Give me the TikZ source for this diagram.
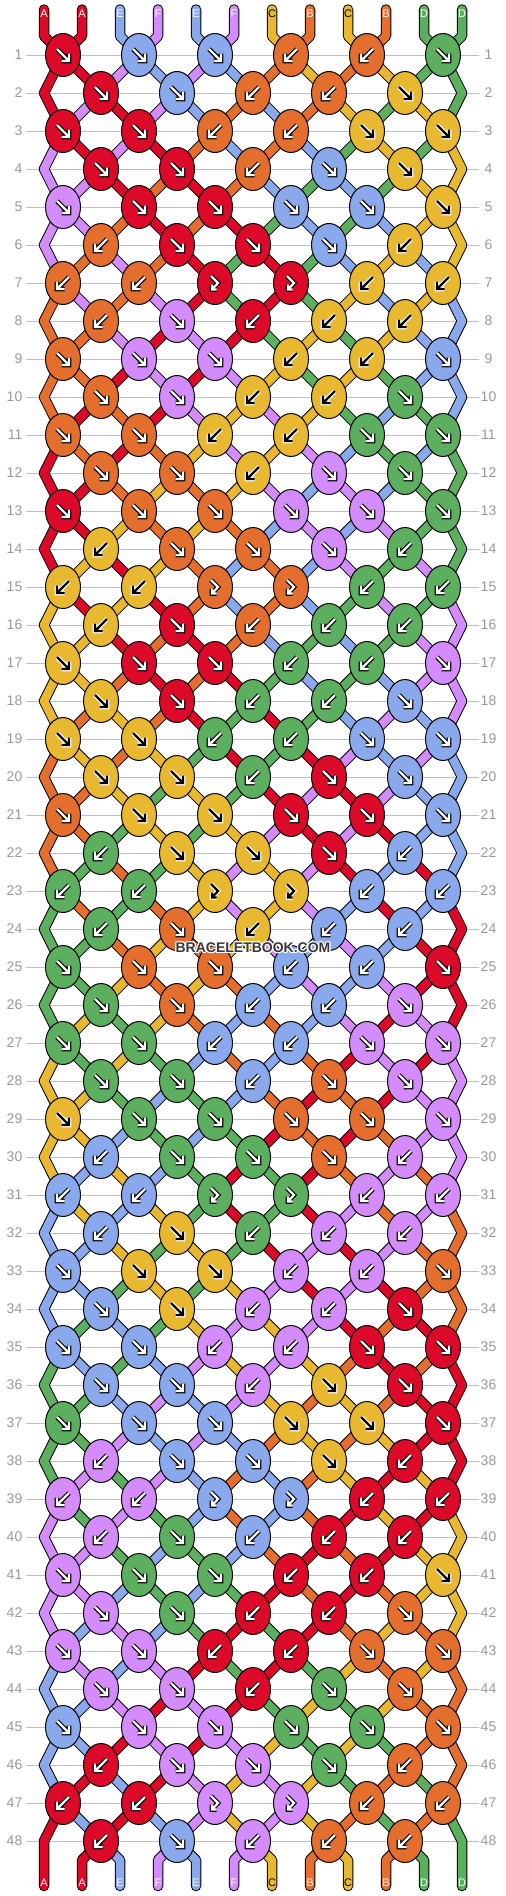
\documentclass[tikz,border=0pt]{standalone}
\usepackage{fontspec}
\setmainfont{Liberation Sans}
\usetikzlibrary{shapes.geometric}
\definecolor{cA}{HTML}{DC0A28}
\definecolor{cB}{HTML}{E36E2E}
\definecolor{cC}{HTML}{E8B830}
\definecolor{cD}{HTML}{5CAF5E}
\definecolor{cE}{HTML}{8AA9EC}
\definecolor{cF}{HTML}{D48CFC}
\colorlet{aA}{white}\colorlet{aB}{white}\colorlet{aC}{black}
\colorlet{aD}{white}\colorlet{aE}{white}\colorlet{aF}{white}
\colorlet{oA}{black}\colorlet{oB}{black}\colorlet{oC}{white}
\colorlet{oD}{black}\colorlet{oE}{black}\colorlet{oF}{black}
\definecolor{gridgray}{HTML}{C0C0C0}
\definecolor{labelgray}{HTML}{999999}
\definecolor{logogray}{HTML}{383838}
\tikzset{
  knot/.style={ellipse, draw=black, line width=1pt, minimum width=35pt, minimum height=43pt, inner sep=0pt},
  strout/.style={line width=10.5pt, draw=black, line cap=round, line join=round},
  strin/.style={line width=8.5pt, line cap=round, line join=round},
  rowline/.style={draw=gridgray, line width=1pt},
  rowlab/.style={text=labelgray, inner sep=0pt, font=\fontsize{14}{14}\selectfont},
  strlab/.style={inner sep=0pt, font=\fontsize{11}{11}\selectfont},
  arrout/.style={line width=4.6pt, line cap=butt, line join=miter},
  arrin/.style={line width=2.3pt, line cap=butt, line join=miter},
  logo/.style={inner sep=0pt, text=logogray, font=\fontsize{14}{14}\selectfont\bfseries},
}
\def\typesi{f,f,f,b,b,f}
\def\typesii{f,f,b,b,f}
\def\typesiii{f,f,b,b,f,f}
\def\typesiv{f,f,b,f,f}
\def\typesv{f,f,f,f,f,f}
\def\typesvi{b,f,f,f,b}
\def\typesvii{b,b,x,x,b,b}
\def\typesviii{b,f,b,b,b}
\newcommand\strseg[2]{\draw[strout] #2; \draw[strin, draw=c#1] #2;}
\newcommand\arrdraw[2]{\draw[arrout, draw=o#1] #2; \draw[arrin, draw=a#1] #2;}
\newcommand\drawarrow[3]{%
  \begin{scope}[shift={(#1)}]
    \if#2f\arrdraw{#3}{(-6,-6) -- (6,6) (6,-1.5) -- (6,6) -- (-1.5,6)}\fi
    \if#2b\arrdraw{#3}{(6,-6) -- (-6,6) (-6,-1.5) -- (-6,6) -- (1.5,6)}\fi
    \if#2x\arrdraw{#3}{(-4,-7) -- (3,0) -- (-3,6.5) (-3,1.5) -- (-3,6.5) -- (1.5,6.5)}\fi
  \end{scope}}
\begin{document}
\begin{tikzpicture}[x=1pt,y=-1pt]
\useasboundingbox (0,0) rectangle (506,1896);
% knot positions, row lines and row numbers
\foreach \rw in {1,...,48}{
  \pgfmathtruncatemacro\odd{mod(\rw,2)}
  \pgfmathsetmacro\yy{55+38*(\rw-1)}
  \ifnum\odd=1
    \foreach \kc in {1,...,6}{\coordinate (k-\rw-\kc) at ({63+76*(\kc-1)},\yy);}
  \else
    \foreach \kc in {1,...,5}{\coordinate (k-\rw-\kc) at ({101+76*(\kc-1)},\yy);}
    \coordinate (eL-\rw) at (44,\yy);
    \coordinate (eR-\rw) at (462,\yy);
  \fi
  \coordinate (gl-\rw) at (26,\yy);
  \coordinate (gr-\rw) at (479,\yy);
  \draw[rowline] (gl-\rw) -- (gr-\rw);
  \node[rowlab, anchor=east] (ll-\rw) at (22.5,\yy) {\rw};
  \node[rowlab] (rl-\rw) at (488.5,\yy) {\rw};
}
% top strings
\foreach \p/\lt in {1/A,2/A,3/E,4/F,5/E,6/F,7/C,8/B,9/C,10/B,11/D,12/D}{
  \expandafter\xdef\csname strc\p\endcsname{\lt}
  \coordinate (top-\p) at ({44+38*(\p-1)},9.5);
  \coordinate (tm-\p) at ({44+38*(\p-1)},36);
  \coordinate (bm-\p) at ({44+38*(\p-1)},1860);
  \coordinate (bot-\p) at ({44+38*(\p-1)},1886);
  \pgfmathtruncatemacro\kk{(\p+1)/2}
  \strseg{\lt}{(top-\p) -- (tm-\p) -- (k-1-\kk)}
  \node[strlab, text=a\lt] (tl-\p) at ({44+38*(\p-1)},13.5) {\lt};
}
% simulate the strings and draw them
\foreach \rw in {1,...,48}{
  \pgfmathtruncatemacro\m{mod(\rw-1,8)+1}
  \pgfmathtruncatemacro\odd{mod(\rw,2)}
  \pgfmathtruncatemacro\rn{\rw+1}
  \pgfmathtruncatemacro\rnn{\rw+2}
  \edef\types{\csname types\romannumeral\m\endcsname}
  \foreach \kt [count=\kc] in \types {
    \ifnum\odd=1 \pgfmathtruncatemacro\pa{2*\kc-1}\else\pgfmathtruncatemacro\pa{2*\kc}\fi
    \pgfmathtruncatemacro\pb{\pa+1}
    \pgfmathtruncatemacro\kcm{\kc-1}
    \pgfmathtruncatemacro\kcp{\kc+1}
    \edef\lL{\csname strc\pa\endcsname}
    \edef\lR{\csname strc\pb\endcsname}
    \if\kt b\let\kl\lR\else\let\kl\lL\fi
    \expandafter\xdef\csname kl-\rw-\kc\endcsname{\kl}
    \if\kt x\else
      \expandafter\xdef\csname strc\pa\endcsname{\lR}
      \expandafter\xdef\csname strc\pb\endcsname{\lL}
    \fi
    \edef\nL{\csname strc\pa\endcsname}
    \edef\nR{\csname strc\pb\endcsname}
    \ifnum\odd=1
      \ifnum\kc=1
        \ifnum\rw<47 \strseg{\nL}{(k-\rw-1) -- (eL-\rn) -- (k-\rnn-1)}%
        \else \strseg{\nL}{(k-\rw-1) -- (eL-\rn) -- (bot-1)}\fi
      \else
        \strseg{\nL}{(k-\rw-\kc) -- (k-\rn-\kcm)}%
      \fi
      \ifnum\kc=6
        \ifnum\rw<47 \strseg{\nR}{(k-\rw-6) -- (eR-\rn) -- (k-\rnn-6)}%
        \else \strseg{\nR}{(k-\rw-6) -- (eR-\rn) -- (bot-12)}\fi
      \else
        \strseg{\nR}{(k-\rw-\kc) -- (k-\rn-\kc)}%
      \fi
    \else
      \ifnum\rw<48
        \strseg{\nL}{(k-\rw-\kc) -- (k-\rn-\kc)}%
        \strseg{\nR}{(k-\rw-\kc) -- (k-\rn-\kcp)}%
      \else
        \strseg{\nL}{(k-\rw-\kc) -- (bm-\pa) -- (bot-\pa)}%
        \strseg{\nR}{(k-\rw-\kc) -- (bm-\pb) -- (bot-\pb)}%
      \fi
    \fi
  }
}
% knots
\foreach \rw in {1,...,48}{
  \pgfmathtruncatemacro\m{mod(\rw-1,8)+1}
  \edef\types{\csname types\romannumeral\m\endcsname}
  \foreach \kt [count=\kc] in \types {
    \edef\kl{\csname kl-\rw-\kc\endcsname}
    \node[knot, fill=c\kl] (n-\rw-\kc) at (k-\rw-\kc) {};
    \drawarrow{n-\rw-\kc.center}{\kt}{\kl}
  }
}
% bottom labels
\foreach \p in {1,...,12}{
  \edef\lt{\csname strc\p\endcsname}
  \node[strlab, text=a\lt] (bl-\p) at ({44+38*(\p-1)},1883) {\lt};
}
% logo with white halo
\foreach \dx/\dy [count=\h] in {-1.2/0,1.2/0,0/-1.2,0/1.2,-0.9/-0.9,0.9/-0.9,-0.9/0.9,0.9/0.9}{
  \node[logo, text=white] (halo-\h) at ({253+\dx},{947.5+\dy}) {BRACELETBOOK.COM};
}
\node[logo] (logo) at (253,947.5) {BRACELETBOOK.COM};
\end{tikzpicture}
\end{document}
